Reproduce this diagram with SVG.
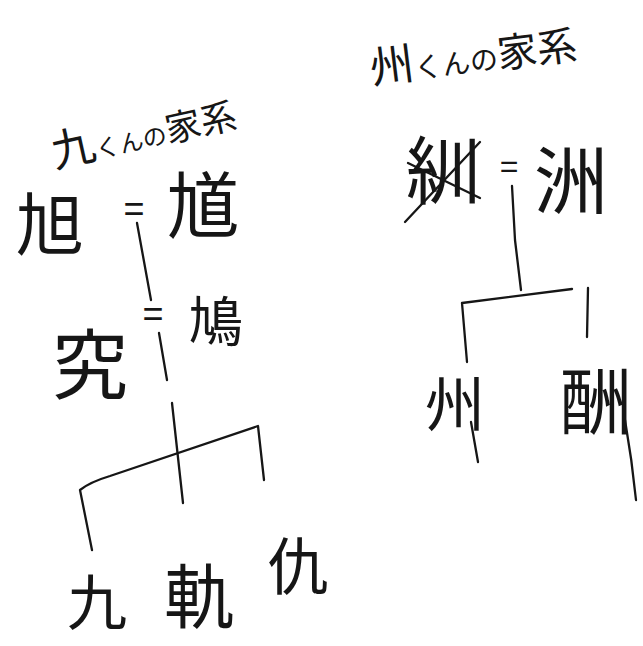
<svg xmlns="http://www.w3.org/2000/svg" width="643" height="646" viewBox="0 0 643 646">
<style>
.k{font-family:"Noto Sans CJK JP","Noto Sans CJK SC",sans-serif;fill:#161616;text-anchor:middle;dominant-baseline:central;font-weight:400}
.t{font-family:"Noto Sans CJK JP","Noto Sans CJK SC",sans-serif;fill:#161616;font-weight:400}
.eq{font-family:"Liberation Sans",sans-serif;fill:#161616;text-anchor:middle;dominant-baseline:central}
.ln{fill:none;stroke:#161616;stroke-width:2.3;stroke-linecap:round;stroke-linejoin:round}
</style>
<rect width="643" height="646" fill="#fff"/>
<g id="title-left"><text class="t" transform="translate(55,168) rotate(-12.5)"><tspan font-size="44">九</tspan><tspan font-size="24">くんの</tspan><tspan font-size="36">家系</tspan></text></g>
<g id="title-right"><text class="t" transform="translate(372,84) rotate(-7)"><tspan font-size="44">州</tspan><tspan font-size="28">くんの</tspan><tspan font-size="40">家系</tspan></text></g>
<g id="connectors">
<path class="ln" d="M137,223 L151,300"/>
<path class="ln" d="M159,333 L167,380"/>
<path class="ln" d="M172,403 L183,503"/>
<path class="ln" d="M92,550 L80,490 Q90,482 110,476 L258,426 L264,480"/>
<path class="ln" d="M512,186 L515,240 L521,290"/>
<path class="ln" d="M467,362 L462,303 L572,289"/>
<path class="ln" d="M588,288 L587,337"/>
</g>
<g id="n-asahi"><text class="k" x="50" y="220" font-size="68">旭</text></g>
<g id="eq1"><text class="eq" x="134" y="208" font-size="36">=</text></g>
<g id="n-ki"><text class="k" x="203" y="200" font-size="72">馗</text></g>
<g id="eq2"><text class="eq" x="153" y="313" font-size="36">=</text></g>
<g id="n-kyu"><text class="k" x="90" y="360" font-size="76">究</text></g>
<g id="n-hato"><text class="k" x="216" y="318" font-size="54">鳩</text></g>
<g id="n-kyu9"><text class="k" x="97" y="598" font-size="60">九</text></g>
<g id="n-ki2"><text class="k" x="199" y="592" font-size="70">軌</text></g>
<g id="n-ada"><text class="k" x="298" y="563" font-size="62">仇</text></g>
<g id="n-crossed"><text class="k" x="443" y="165" font-size="74">紃</text><path class="ln" d="M405,222 L480,142"/><path class="ln" d="M408,163 L480,198"/></g>
<g id="eq3"><text class="eq" x="509" y="166" font-size="32">=</text></g>
<g id="n-su"><text class="k" x="571" y="175" font-size="74">洲</text></g>
<g id="n-shu"><text class="k" x="455" y="400" font-size="60">州</text><path class="ln" d="M471,422 L478,462"/></g>
<g id="n-shu2"><text class="k" x="596" y="396" font-size="72">酬</text><path class="ln" d="M625,420 Q632,460 636,500"/></g>
</svg>
